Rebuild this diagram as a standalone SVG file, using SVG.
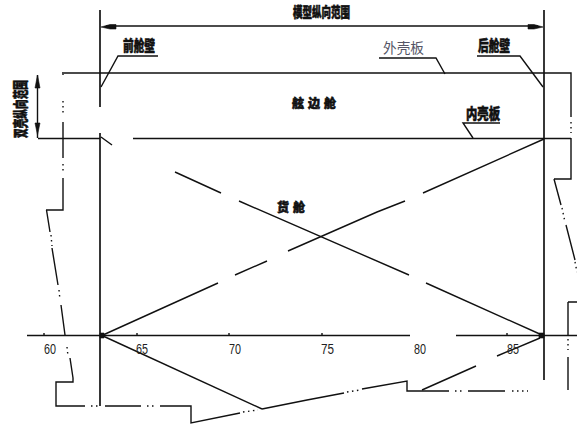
<svg xmlns="http://www.w3.org/2000/svg" width="577" height="426" viewBox="0 0 577 426">
<style>
.l{fill:none;stroke:#111;stroke-width:1.4}
.h{fill:none;stroke:#222;stroke-width:1.8}
.d{fill:none;stroke:#111;stroke-width:1.4;stroke-dasharray:1.5 3.5}
.a{fill:#111;stroke:#111;stroke-width:.6}
.t{font-family:"Noto Sans CJK SC","Noto Sans",sans-serif;font-weight:900;fill:#111;stroke:#111;stroke-width:.6}
.n{font-family:"Liberation Sans",sans-serif;font-size:15px;fill:#222}
</style>
<rect width="577" height="426" fill="#fff"/>
<g id="connectors">
<path class="h" d="M100 10V107M100 133V406M544 10V380"/>
<path class="l" d="M106 26H538"/>
<path class="a" d="M101 27L110 24.500H116V29H110ZM543 27L534 24.500H528V29H534Z"/>
<path class="l" d="M62 73H571V117M571 138V179H554"/>
<path class="d" d="M571 122V133"/>
<path class="l" d="M38 138.500H100M133 138.500H571"/>
<path class="l" d="M37.500 75V138"/>
<path class="a" d="M37.500 75L40 88H35ZM37.500 135L35 123H40Z"/>
<path class="l" d="M63 74V75M63 122V158M63 178V210H46"/>
<path class="d" d="M63 101V116M63 164V172"/>
<path class="l" d="M46.500 210L50 232M52 248L58 285M61 305L65 335M70 358L73 378V382H56V406H85M105 406H141M160 406H191V423L240 413M262 409L307 400L344 393M362 389L407 381V391H449M468 391H505"/>
<path class="d" d="M51 235L52 246M59 290L60 300M67 347L68 356M91 406H100M147 406H156M243 412L258 410M347 392L360 390M455 391H464M512 391H528"/>
<path class="l" d="M27 335.500H410M456 335.500H577"/>
<path class="l" d="M44 335V333M137 335V333M229 335V333M322 335V333M507 335V333"/>
<path class="l" d="M103 335L218 283M235 275L267 261M288 251L377 212L405 201M423 193L544 139"/>
<path class="l" d="M101 137L112 145M175 172L221 193M239 201L409 275M426 283L542 335"/>
<path class="l" d="M103 336L262 409"/>
<path class="l" d="M540 338L497 356M476 366L422 390"/>
<path class="a" d="M100 333H104V338H100ZM539 333H544V338H539Z"/>
<path class="l" d="M554 179L561 205M566 225L575 260"/>
<path class="d" d="M562 208L565 222M575 262L577 272"/>
<path class="l" d="M568 302V335M568 357V390M568 302H577"/>
<path class="d" d="M568 339V350"/>
<path class="l" d="M101 87L118 56H158M543 87L520 56H477M445 74L436 58H379M473 138L463 123H500"/>
</g>
<g id="label-top"><text class="t" x="293" y="17" font-size="14" textLength="57" lengthAdjust="spacingAndGlyphs">模型纵向范围</text></g>
<g id="label-fwd"><text class="t" x="123" y="51" font-size="15" textLength="32" lengthAdjust="spacingAndGlyphs">前舱壁</text></g>
<g id="label-aft"><text class="t" x="478" y="51" font-size="15" textLength="32" lengthAdjust="spacingAndGlyphs">后舱壁</text></g>
<g id="label-shell"><text x="383" y="53" font-family="Noto Sans CJK SC,sans-serif" font-size="14" fill="#556" textLength="41" lengthAdjust="spacingAndGlyphs">外壳板</text></g>
<g id="label-inner"><text class="t" x="466" y="119" font-size="15" textLength="34" lengthAdjust="spacingAndGlyphs">内壳板</text></g>
<g id="label-tank"><text class="t" x="292 308 324" y="108" font-size="12">舷边舱</text></g>
<g id="label-hold"><text class="t" x="277 293" y="212" font-size="12">货舱</text></g>
<g id="label-range"><text class="t" transform="translate(26 138) rotate(-90)" font-size="15" textLength="58" lengthAdjust="spacingAndGlyphs">双壳纵向范围</text></g>
<g id="scale">
<text class="n" x="44" y="354" textLength="12" lengthAdjust="spacingAndGlyphs">60</text>
<text class="n" x="136" y="354" textLength="12" lengthAdjust="spacingAndGlyphs">65</text>
<text class="n" x="229" y="354" textLength="12" lengthAdjust="spacingAndGlyphs">70</text>
<text class="n" x="321" y="354" textLength="13" lengthAdjust="spacingAndGlyphs">75</text>
<text class="n" x="414" y="354" textLength="12" lengthAdjust="spacingAndGlyphs">80</text>
<text class="n" x="507" y="354" textLength="12" lengthAdjust="spacingAndGlyphs">85</text>
</g>
</svg>
